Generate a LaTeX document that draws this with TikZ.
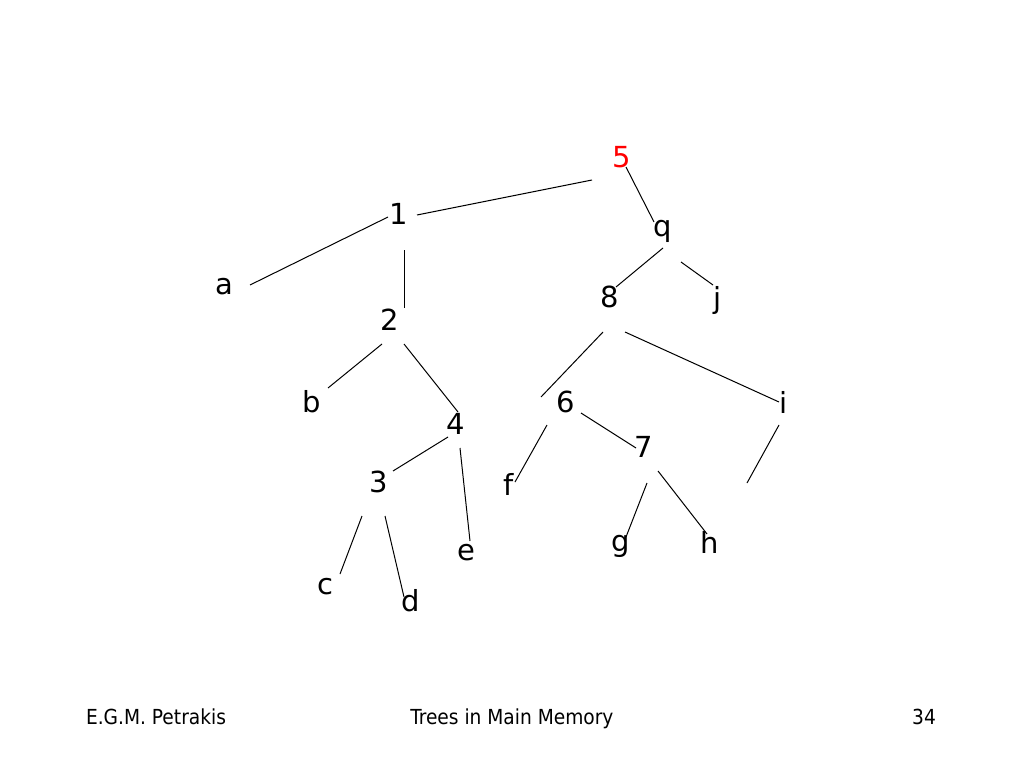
\documentclass[tikz,border=0pt]{standalone}
\usepackage{fontspec}
\setmainfont{DejaVu Sans}
\newfontfamily\footfont{DejaVu Sans Condensed}
\begin{document}
\begin{tikzpicture}[x=1pt,y=-1pt,
  lab/.style={inner sep=0pt,font=\fontsize{29}{34}\selectfont},
  foot/.style={inner sep=0pt,anchor=base,font=\footfont\fontsize{20.7}{25}\selectfont},
  edge/.style={draw=black,line width=1pt}]
\useasboundingbox[fill=white] (0,0) rectangle (1024,768);
% labels
\node[lab,text=red] (n5) at (622,157) {5};
\node[lab] (n1) at (399,214) {1};
\node[lab] (nq) at (663,231) {q};
\node[lab] (na) at (224,287) {a};
\node[lab] (n8) at (610,297) {8};
\node[lab] (nj) at (718,300) {j};
\node[lab] (n2) at (390,320) {2};
\node[lab] (nb) at (312,402) {b};
\node[lab] (n6) at (566,402) {6};
\node[lab] (ni) at (784,402) {i};
\node[lab] (n4) at (456,424) {4};
\node[lab] (n7) at (644,447) {7};
\node[lab] (n3) at (379,482) {3};
\node[lab] (nf) at (509,484) {f};
\node[lab] (ne) at (466,553) {e};
\node[lab] (ng) at (621,546) {g};
\node[lab] (nh) at (710,542) {h};
\node[lab] (nc) at (325,587) {c};
\node[lab] (nd) at (411,601) {d};
% edge end points
\coordinate (e51a) at (592,180); \coordinate (e51b) at (417,215);
\coordinate (e1aa) at (388,217); \coordinate (e1ab) at (250,285);
\coordinate (e12a) at (404.5,250); \coordinate (e12b) at (404.5,308);
\coordinate (e5qa) at (626,167); \coordinate (e5qb) at (654,222);
\coordinate (eq8a) at (663,248); \coordinate (eq8b) at (616,287);
\coordinate (eqja) at (681,262); \coordinate (eqjb) at (713,285);
\coordinate (e86a) at (603,332); \coordinate (e86b) at (541,397);
\coordinate (e8ia) at (625,332); \coordinate (e8ib) at (779,402);
\coordinate (e2ba) at (382,344); \coordinate (e2bb) at (328,388);
\coordinate (e24a) at (404,344); \coordinate (e24b) at (458,412);
\coordinate (e43a) at (448,437); \coordinate (e43b) at (393,471);
\coordinate (e4ea) at (460,448); \coordinate (e4eb) at (470,541);
\coordinate (e3ca) at (362,516); \coordinate (e3cb) at (340,574);
\coordinate (e3da) at (385,516); \coordinate (e3db) at (404,597);
\coordinate (e6fa) at (547,425); \coordinate (e6fb) at (515,482);
\coordinate (e67a) at (581,413); \coordinate (e67b) at (636,448);
\coordinate (e7ga) at (647,483); \coordinate (e7gb) at (626,537);
\coordinate (e7ha) at (658,471); \coordinate (e7hb) at (707,534);
\coordinate (eixa) at (779,425); \coordinate (eixb) at (747,483);
% edges
\draw[edge] (e51a) -- (e51b);
\draw[edge] (e1aa) -- (e1ab);
\draw[edge] (e12a) -- (e12b);
\draw[edge] (e5qa) -- (e5qb);
\draw[edge] (eq8a) -- (eq8b);
\draw[edge] (eqja) -- (eqjb);
\draw[edge] (e86a) -- (e86b);
\draw[edge] (e8ia) -- (e8ib);
\draw[edge] (e2ba) -- (e2bb);
\draw[edge] (e24a) -- (e24b);
\draw[edge] (e43a) -- (e43b);
\draw[edge] (e4ea) -- (e4eb);
\draw[edge] (e3ca) -- (e3cb);
\draw[edge] (e3da) -- (e3db);
\draw[edge] (e6fa) -- (e6fb);
\draw[edge] (e67a) -- (e67b);
\draw[edge] (e7ga) -- (e7gb);
\draw[edge] (e7ha) -- (e7hb);
\draw[edge] (eixa) -- (eixb);
% footer
\node[foot] (f1) at (156,724) {E.G.M. Petrakis};
\node[foot] (f2) at (512,724) {Trees in Main Memory};
\node[foot] (f3) at (924,724) {34};
\end{tikzpicture}
\end{document}
